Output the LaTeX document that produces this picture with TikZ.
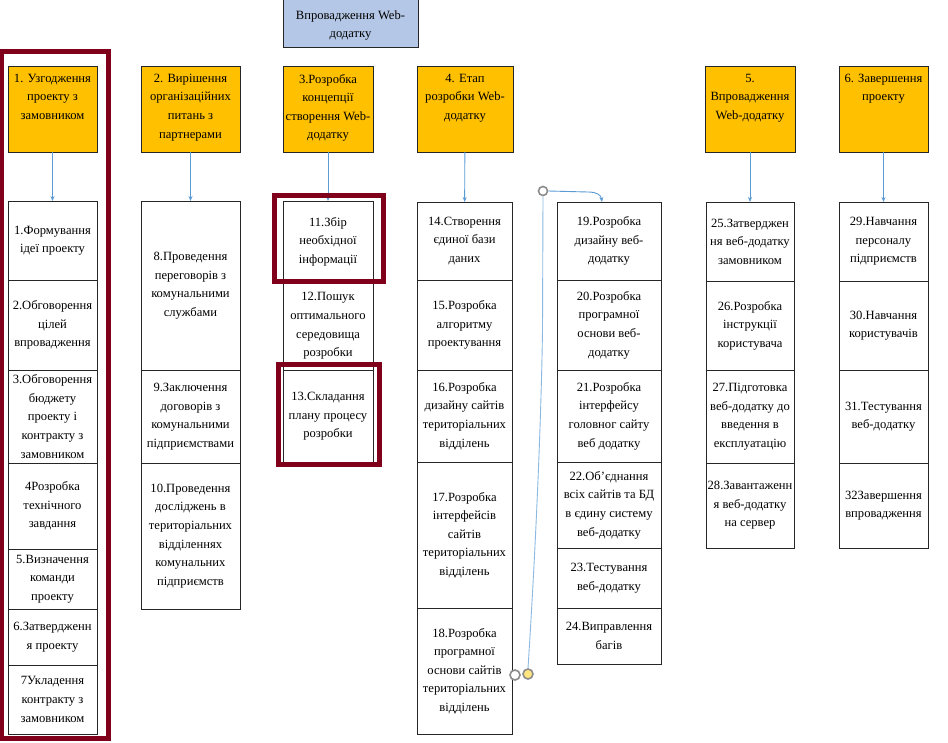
\documentclass[tikz,border=0pt]{standalone}
\usepackage{fontspec}
\setmainfont{Liberation Serif}
\usetikzlibrary{arrows.meta, positioning}
\definecolor{hdrorange}{HTML}{FFC000}
\definecolor{topblue}{HTML}{B4C7E7}
\definecolor{linkblue}{HTML}{5B9BD5}
\definecolor{framered}{RGB}{128,0,28}
\definecolor{handlegray}{HTML}{8C8C8C}
\definecolor{handleyellow}{HTML}{FFE680}
\newcommand{\headtext}[2]{\parbox[t][70pt][t]{#1}{\centering #2}}

\begin{document}
\begin{tikzpicture}[
    x=1pt, y=-1pt,
    txt/.style={font=\fontsize{12.6}{18.6}\selectfont, text=black},
    head/.style={txt, rectangle, draw=black!85, line width=1pt, fill=hdrorange,
                 anchor=north, minimum width=#1pt, minimum height=86pt,
                 inner xsep=0pt, inner ysep=8pt, outer sep=0pt},
    cell/.style={txt, rectangle, draw=black!85, line width=1pt, fill=white,
                 minimum width=#1pt, align=center, inner xsep=1pt, inner ysep=2pt,
                 outer sep=0pt},
    topbox/.style={txt, rectangle, draw=black!85, line width=1pt, fill=topblue,
                   minimum width=135pt, minimum height=51pt, align=center},
    hilite/.style={draw=framered, line width=4.5pt},
    link/.style={draw=linkblue, line width=0.9pt, -{Stealth[length=5pt, width=4pt]}},
    handle/.style={circle, draw=handlegray, line width=1.6pt, fill=white,
                   inner sep=0pt, minimum size=10pt}
]
\useasboundingbox (0,0) rectangle (948,742);
\fill[white] (0,0) rectangle (948,742);

%% Top box
\node[topbox] (top) at (350.5,21.5) {\rule{0pt}{17pt}Впровадження Web-\\додатку};

%% Stage headers
\node[head=89] (h1) at (52.5,66)  {\headtext{89pt}{1. Узгодження\\проекту з\\замовником}};
\node[head=99] (h2) at (190.5,66) {\headtext{99pt}{2. Вирішення\\організаційних\\питань з\\партнерами}};
\node[head=90] (h3) at (328,66)   {\headtext{90pt}{3.Розробка\\концепції\\створення Web-\\додатку}};
\node[head=96] (h4) at (465,66)   {\headtext{96pt}{4. Етап\\розробки Web-\\додатку}};
\node[head=90] (h5) at (750,66)   {\headtext{90pt}{5.\\Впровадження\\Web-додатку}};
\node[head=89] (h6) at (883.5,66) {\headtext{89pt}{6. Завершення\\проекту}};

%% Column 1
\node[cell=89, minimum height=79pt, anchor=north] (b1) at (52.5,201) {1.Формування\\ідеї проекту};
\node[cell=89, minimum height=90pt, below=0pt of b1] (b2) {2.Обговорення\\цілей\\впровадження};
\node[cell=89, minimum height=93pt, below=0pt of b2] (b3) {3.Обговорення\\бюджету\\проекту і\\контракту з\\замовником};
\node[cell=89, minimum height=86pt, below=0pt of b3] (b4) {4Розробка\\технічного\\завдання};
\node[cell=89, minimum height=60pt, below=0pt of b4] (b5) {5.Визначення\\команди\\проекту};
\node[cell=89, minimum height=56pt, below=0pt of b5] (b6) {6.Затвердженн\\я проекту};
\node[cell=89, minimum height=69pt, below=0pt of b6] (b7) {7Укладення\\контракту з\\замовником};

%% Column 2
\node[cell=99, minimum height=169pt, anchor=north] (b8) at (190.5,201) {8.Проведення\\переговорів з\\комунальними\\службами};
\node[cell=99, minimum height=93pt, below=0pt of b8] (b9) {9.Заключення\\договорів з\\комунальними\\підприємствами};
\node[cell=99, minimum height=146pt, below=0pt of b9] (b10) {10.Проведення\\досліджень в\\територіальних\\відділеннях\\комунальних\\підприємств};

%% Column 3
\node[cell=90, minimum height=81pt, anchor=north] (b11) at (328,201) {11.Збір\\необхідної\\інформації};
\node[cell=90, minimum height=88pt, below=0pt of b11] (b12) {12.Пошук\\оптимального\\середовища\\розробки};
\node[cell=90, minimum height=93pt, below=0pt of b12] (b13) {13.Складання\\плану процесу\\розробки};

%% Column 4
\node[cell=95, minimum height=78pt, anchor=north] (b14) at (464.5,202) {14.Створення\\єдиної бази\\даних};
\node[cell=95, minimum height=90pt, below=0pt of b14] (b15) {15.Розробка\\алгоритму\\проектування};
\node[cell=95, minimum height=92pt, below=0pt of b15] (b16) {16.Розробка\\дизайну сайтів\\територіальних\\відділень};
\node[cell=95, minimum height=146pt, below=0pt of b16] (b17) {17.Розробка\\інтерфейсів\\сайтів\\територіальних\\відділень};
\node[cell=95, minimum height=126pt, below=0pt of b17] (b18) {18.Розробка\\програмної\\основи сайтів\\територіальних\\відділень};

%% Column 4, second part
\node[cell=104, minimum height=78pt, anchor=north] (b19) at (609,202) {19.Розробка\\дизайну веб-\\додатку};
\node[cell=104, minimum height=90pt, below=0pt of b19] (b20) {20.Розробка\\програмної\\основи веб-\\додатку};
\node[cell=104, minimum height=92pt, below=0pt of b20] (b21) {21.Розробка\\інтерфейсу\\головног сайту\\веб додатку};
\node[cell=104, minimum height=86pt, below=0pt of b21] (b22) {22.Об’єднання\\всіх сайтів та БД\\в єдину систему\\веб-додатку};
\node[cell=104, minimum height=60pt, below=0pt of b22] (b23) {23.Тестування\\веб-додатку};
\node[cell=104, minimum height=56pt, below=0pt of b23] (b24) {24.Виправлення\\багів};

%% Column 5
\node[cell=88, minimum height=79pt, anchor=north] (b25) at (750,202) {25.Затверджен\\ня веб-додатку\\замовником};
\node[cell=88, minimum height=89pt, below=0pt of b25] (b26) {26.Розробка\\інструкції\\користувача};
\node[cell=88, minimum height=93pt, below=0pt of b26] (b27) {27.Підготовка\\веб-додатку до\\введення в\\експлуатацію};
\node[cell=88, minimum height=85pt, below=0pt of b27] (b28) {28.Завантаженн\\я веб-додатку\\на сервер};

%% Column 6
\node[cell=89, minimum height=79pt, anchor=north] (b29) at (883.5,202) {29.Навчання\\персоналу\\підприємств};
\node[cell=89, minimum height=89pt, below=0pt of b29] (b30) {30.Навчання\\користувачів};
\node[cell=89, minimum height=93pt, below=0pt of b30] (b31) {31.Тестування\\веб-додатку};
\node[cell=89, minimum height=85pt, below=0pt of b31] (b32) {32Завершення\\впровадження};

%% Arrows: headers -> first tasks
\draw[link] (h1) -- (b1);
\draw[link] (h2) -- (b8);
\draw[link] (h3) -- (b11);
\draw[link] (h4) -- (b14);
\draw[link] (h5) -- (b25);
\draw[link] (h6) -- (b29);

%% Highlight frames
\draw[hilite] ([xshift=-6pt, yshift=14.5pt]h1.north west) rectangle ([xshift=11.5pt, yshift=-4.5pt]b7.south east);
\draw[hilite] ([xshift=-8.5pt, yshift=5.5pt]b11.north west) rectangle ([xshift=10.5pt, yshift=0.5pt]b11.south east);
\draw[hilite] ([xshift=-4.5pt, yshift=5.5pt]b13.north west) rectangle ([xshift=6.5pt, yshift=-1.5pt]b13.south east);

%% Connector 18 -> 19 with its handles
\node[handle] (hw) at (515,675) {};
\node[handle, fill=handleyellow] (hy) at (528,674) {};
\node[handle, minimum size=9pt] (ht) at (543,191) {};
\coordinate (in19) at ([xshift=-7pt]b19.north);
\draw[draw=linkblue!70, line width=0.9pt] (hy.north) .. controls (535,560) and (541,430) .. (542.5,330) -- (ht.south);
\draw[link] (ht.east) -- (588,192) .. controls (597,192) and (601,195) .. (in19);

\end{tikzpicture}
\end{document}
